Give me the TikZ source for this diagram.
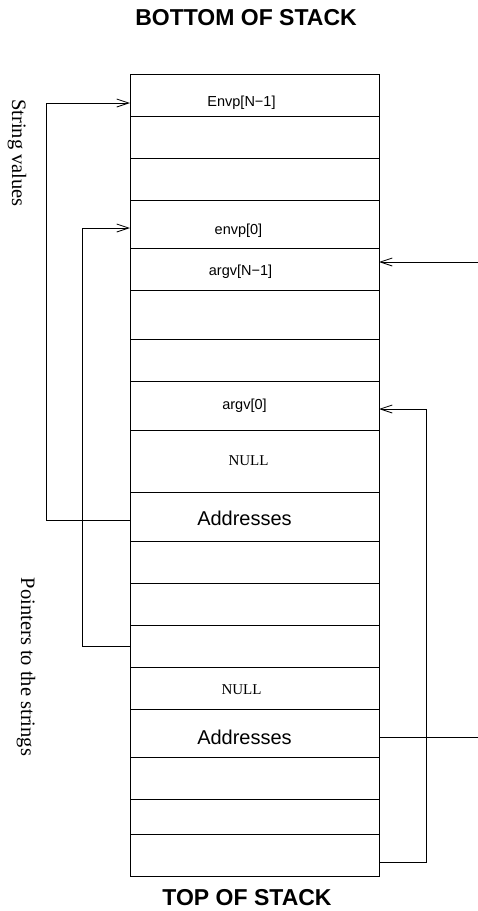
\documentclass[tikz,border=0pt]{standalone}
\usepackage{fontspec}
\setmainfont{Liberation Sans}
\newfontfamily\romanfont{Liberation Serif}
\usepackage{tikz}
\usetikzlibrary{positioning, arrows.meta, calc}

\begin{document}
\begin{tikzpicture}[
    x=1pt, y=-1pt,
    cell/.style={rectangle, draw, line width=0.8pt, minimum width=249pt,
                 inner sep=0pt, outer sep=0pt},
    lbl/.style={font=\fontsize{14.5}{16}\selectfont, inner sep=0pt},
    nulllbl/.style={font=\romanfont\fontsize{15}{17}\selectfont, inner sep=0pt},
    addr/.style={font=\fontsize{20}{22}\selectfont, inner sep=0pt},
    title/.style={font=\bfseries\fontsize{23}{26}\selectfont, inner sep=0pt},
    side/.style={font=\romanfont\fontsize{20.5}{22}\selectfont, rotate=-90, inner sep=0pt},
    link/.style={line width=0.8pt},
    arrow/.style={link, -{Straight Barb[length=12pt, width=8pt, line width=0.8pt]}},
]
\useasboundingbox (0,0) rectangle (478,911);

% --- headings ---
\node[title] (bottom) at (246,18) {BOTTOM OF STACK};
\node[title] (top) at (247,898) {TOP OF STACK};

% --- stack cells, top edge / bottom edge ---
\foreach \t/\b [count=\i] in {74/116, 116/158, 158/200, 200/248, 248/290,
    290/339, 339/381, 381/430, 430/492, 492/541, 541/583, 583/625,
    625/667, 667/709, 709/757, 757/799, 799/834, 834/876}
  \node[cell, minimum height={\b-\t}] (c\i) at (254.5, {(\t+\b)/2}) {};

% --- cell contents ---
\node[lbl, xshift=-13pt, yshift=-8pt] (envpN) at (c1) {Envp[N−1]};
\node[lbl, xshift=-16pt, yshift=-7pt] (envp0) at (c4) {envp[0]};
\node[lbl, xshift=-14pt, yshift=-3pt] (argvN) at (c5) {argv[N−1]};
\node[lbl, xshift=-10pt] (argv0) at (c8) {argv[0]};
\node[nulllbl, xshift=-6pt] (null1) at (c9) {NULL};
\node[addr, xshift=-10pt, yshift=-1.5pt] (addr1) at (c10) {Addresses};
\node[nulllbl, xshift=-13pt, yshift=-2pt] (null2) at (c14) {NULL};
\node[addr, xshift=-10pt, yshift=-4pt] (addr2) at (c15) {Addresses};

% --- side captions ---
\node[side] (strval) at (17,153) {String values};
\node[side] (ptrs) at (26,667) {Pointers to the strings};

% --- free ends on the right ---
\coordinate (argin) at (478,262);
\coordinate (addrout) at (478,737);

% ============== connectors ==============
\draw[arrow] ([yshift=-3.5pt]c10.west) -- ++(-84,0) |- ([yshift=-8pt]c1.west);
\draw[arrow] (c13.west) -- ++(-48,0) |- ([yshift=-4pt]c4.west);
\draw[arrow] (argin) -- (argin -| c5.east);
\draw[link] ([yshift=-4pt]c15.east) -- (addrout);
\draw[arrow] ([yshift=-7pt]c18.east) -- ++(47,0) |- ([yshift=-3.5pt]c8.east);

\end{tikzpicture}
\end{document}
